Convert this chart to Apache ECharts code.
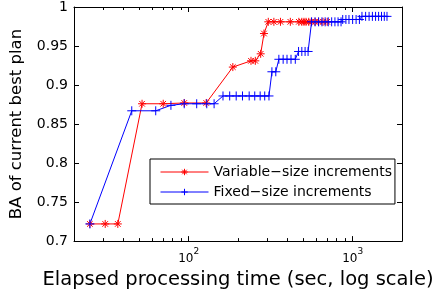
<!DOCTYPE html>
<html>
<head>
<meta charset="utf-8">
<script src="https://cdn.jsdelivr.net/npm/echarts@6/dist/echarts.min.js"></script>
<style>html,body{margin:0;padding:0;background:#fff}#c{width:436px;height:295px}</style>
</head>
<body>
<div id="c"></div>
<script>
// Data
var varTime = [25, 31, 37, 52, 70, 94, 128, 186, 240, 255, 275, 288, 306, 331, 363, 417, 470, 490, 505, 520, 540, 560, 590, 620, 660, 700];
var varBA   = [0.722, 0.722, 0.722, 0.876, 0.876, 0.877, 0.877, 0.923, 0.931, 0.931, 0.940, 0.966, 0.981, 0.981, 0.981, 0.981, 0.981, 0.981, 0.981, 0.981, 0.981, 0.981, 0.981, 0.981, 0.981, 0.981];
var fixTime = [25, 45, 63, 78, 94, 112, 129, 143, 162, 178, 195, 213, 234, 253, 273, 291, 309, 322, 340, 355, 377, 398, 421, 447, 468, 490, 513, 535, 562, 590, 620, 650, 680, 710, 745, 780, 815, 850, 870, 910, 950, 1000, 1050, 1100, 1140, 1200, 1260, 1320, 1380, 1440, 1500, 1560, 1620];
var fixBA   = [0.722, 0.867, 0.867, 0.874, 0.876, 0.876, 0.876, 0.876, 0.886, 0.886, 0.886, 0.886, 0.886, 0.886, 0.886, 0.886, 0.886, 0.917, 0.917, 0.933, 0.933, 0.933, 0.933, 0.933, 0.943, 0.943, 0.943, 0.943, 0.981, 0.981, 0.981, 0.981, 0.981, 0.981, 0.981, 0.981, 0.981, 0.981, 0.984, 0.984, 0.984, 0.984, 0.984, 0.984, 0.988, 0.988, 0.988, 0.988, 0.988, 0.988, 0.988, 0.988, 0.988];
var xMajorTicks = [100, 1000];
var xMinorTicks = [30, 40, 50, 60, 70, 80, 90, 200, 300, 400, 500, 600, 700, 800, 900, 2000];
var seriesNames = ['Variable\u2212size increments', 'Fixed\u2212size increments'];
var xTitle = 'Elapsed processing time (sec, log scale)';
var yTitle = 'BA of current best plan';

var FONT = 'DejaVu Sans';
var starPath = 'path://M0,-1L0,1M-1,0L1,0M-0.7,-0.7L0.7,0.7M-0.7,0.7L0.7,-0.7';
var plusPath = 'path://M0,-1L0,1M-1,0L1,0';

function pairs(xs, ys) { return xs.map(function (x, i) { return [x, ys[i]]; }); }

function xAx(pos, ticks, len, opts) {
  var a = {
    type: 'log', logBase: 10, min: 20, max: 2000, position: pos, gridIndex: 0,
    axisLine: { show: true, onZero: false, lineStyle: { color: '#000', width: 1 } },
    axisTick: { show: true, inside: true, length: len, customValues: ticks, lineStyle: { color: '#000', width: 1 } },
    axisLabel: { show: false },
    splitLine: { show: false }, minorTick: { show: false }
  };
  for (var k in opts) a[k] = opts[k];
  return a;
}
function yAx(pos, showLabel) {
  return {
    type: 'value', min: 0.7, max: 1, interval: 0.05, position: pos,
    axisLine: { show: true, onZero: false, lineStyle: { color: '#000', width: 1 } },
    axisTick: { show: true, inside: true, length: 5, lineStyle: { color: '#000', width: 1 } },
    axisLabel: { show: showLabel, color: '#000', fontFamily: FONT, fontSize: 14, margin: 6 },
    splitLine: { show: false },
    name: showLabel ? yTitle : '', nameLocation: 'middle', nameGap: 49,
    nameTextStyle: { color: '#000', fontFamily: FONT, fontSize: 16.5 }
  };
}

var chart = echarts.init(document.getElementById('c'), null, { renderer: 'canvas' });
chart.setOption({
  animation: false,
  backgroundColor: '#fff',
  grid: { left: 71, right: 34, top: 7, bottom: 53, containLabel: false },
  xAxis: [
    xAx('bottom', xMajorTicks, 5, {
      axisLabel: {
        show: true, customValues: xMajorTicks, margin: 6, color: '#000',
        formatter: function (v) { return '{b|10}{s|' + Math.round(Math.log10(v)) + '}'; },
        rich: {
          b: { fontFamily: FONT, fontSize: 12, color: '#000' },
          s: { fontFamily: FONT, fontSize: 9, color: '#000', padding: [0, 0, 15, 0] }
        }
      },
      name: xTitle, nameLocation: 'middle', nameGap: 26,
      nameTextStyle: { color: '#000', fontFamily: FONT, fontSize: 19.5 }
    }),
    xAx('bottom', xMinorTicks, 3, { axisLine: { show: false } }),
    xAx('top', xMajorTicks, 5, {}),
    xAx('top', xMinorTicks, 3, { axisLine: { show: false } })
  ],
  yAxis: [yAx('left', true), yAx('right', false)],
  legend: {
    orient: 'vertical', left: 150, top: 159,
    itemWidth: 48, itemHeight: 8, itemGap: 6,
    padding: [6, 3, 5, 10],
    backgroundColor: '#fff', borderColor: '#000', borderWidth: 1, borderRadius: 0,
    textStyle: { color: '#000', fontFamily: FONT, fontSize: 14 },
    lineStyle: { width: 1 },
    itemStyle: { borderWidth: 1 },
    data: seriesNames
  },
  series: [
    {
      name: seriesNames[0], type: 'line', xAxisIndex: 0, yAxisIndex: 0,
      data: pairs(varTime, varBA),
      symbol: starPath, symbolSize: 8, showAllSymbol: true,
      lineStyle: { color: '#ff0000', width: 1 },
      itemStyle: { color: '#ff0000', borderColor: '#ff0000', borderWidth: 1 }
    },
    {
      name: seriesNames[1], type: 'line', xAxisIndex: 0, yAxisIndex: 0,
      data: pairs(fixTime, fixBA),
      symbol: plusPath, symbolSize: 9, showAllSymbol: true,
      lineStyle: { color: '#0000ff', width: 1 },
      itemStyle: { color: '#0000ff', borderColor: '#0000ff', borderWidth: 1 }
    }
  ]
});
</script>
</body>
</html>
